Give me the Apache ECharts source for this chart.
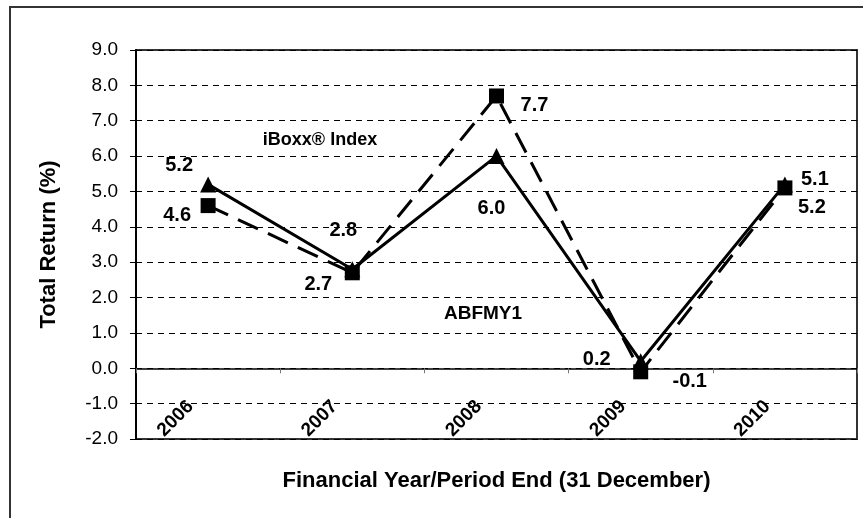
<!DOCTYPE html>
<html>
<head>
<meta charset="utf-8">
<script src="https://cdn.jsdelivr.net/npm/echarts@6/dist/echarts.min.js"></script>
<style>
  html, body { margin: 0; padding: 0; background: #fff; }
  #main { width: 863px; height: 518px; }
</style>
</head>
<body>
<div id="main"></div>
<script>
// categories and values
var years = ['2006', '2007', '2008', '2009', '2010'];
var iboxx = [5.2, 2.8, 6.0, 0.2, 5.2];    // solid line, triangles
var abfmy1 = [4.6, 2.7, 7.7, -0.1, 5.1];  // dashed line, squares

// where each value label sits relative to its marker (px)
var iboxxLabelOffsets = [[-29, -19], [-9, -39], [-5, 52], [-44, -2], [27, 23]];
var abfmyLabelOffsets = [[-31, 10], [-34, 12], [38, 10], [49, 10], [30, -8]];

var FONT = 'Arial, "Liberation Sans", sans-serif';

function withLabels(values, offsets) {
  return values.map(function (v, i) {
    return { value: v, label: { offset: offsets[i] } };
  });
}

var myChart = echarts.init(document.getElementById('main'));

myChart.setOption({
  backgroundColor: '#fff',
  animation: false,
  textStyle: { fontFamily: FONT },
  grid: {
    left: 136,
    top: 50,
    right: 6,
    bottom: 79,
    outerBoundsMode: 'none',
    containLabel: false,
    show: true,
    borderColor: '#333',
    borderWidth: 2
  },
  xAxis: {
    type: 'category',
    data: years,
    boundaryGap: true,
    axisLine: { onZero: true, lineStyle: { color: '#000', width: 1.5 } },
    axisTick: { show: true, inside: false, length: 5, lineStyle: { color: '#777', width: 1 } },
    axisLabel: {
      rotate: 45,
      margin: -53,
      padding: [0, 25, 0, 0],
      color: '#000',
      fontSize: 19,
      fontWeight: 'bold',
      fontFamily: FONT
    },
    splitLine: { show: false },
    name: 'Financial Year/Period End (31 December)',
    nameLocation: 'middle',
    nameGap: 31,
    nameTextStyle: { color: '#000', fontSize: 22, fontWeight: 'bold', fontFamily: FONT }
  },
  yAxis: {
    type: 'value',
    min: -2,
    max: 9,
    interval: 1,
    axisLine: { show: true, lineStyle: { color: '#000', width: 2 } },
    axisTick: { show: true, inside: false, length: 6, lineStyle: { color: '#000', width: 1 } },
    axisLabel: {
      margin: 18,
      color: '#000',
      fontSize: 19,
      fontFamily: FONT,
      formatter: function (v) { return v.toFixed(1); }
    },
    splitLine: { show: true, lineStyle: { color: '#000', width: 1, type: [6, 5] } },
    name: 'Total Return (%)',
    nameLocation: 'middle',
    nameGap: 76,
    nameTextStyle: { color: '#000', fontSize: 22, fontWeight: 'bold', fontFamily: FONT }
  },
  graphic: [
    {
      type: 'rect',
      silent: true,
      shape: { x: 10, y: 7, width: 900, height: 600 },
      style: { fill: 'none', stroke: '#333', lineWidth: 2 },
      z: -1
    },
    {
      type: 'text',
      x: 320, y: 140,
      style: {
        text: 'iBoxx® Index',
        fill: '#000',
        font: 'bold 18px ' + FONT,
        align: 'center',
        verticalAlign: 'middle'
      }
    },
    {
      type: 'text',
      x: 483, y: 314,
      style: {
        text: 'ABFMY1',
        fill: '#000',
        font: 'bold 19px ' + FONT,
        align: 'center',
        verticalAlign: 'middle'
      }
    }
  ],
  series: [
    {
      name: 'iBoxx® Index',
      type: 'line',
      data: withLabels(iboxx, iboxxLabelOffsets),
      symbol: 'triangle',
      symbolSize: 16,
      lineStyle: { color: '#000', width: 3 },
      itemStyle: { color: '#000' },
      label: {
        show: true,
        position: 'inside',
        align: 'center',
        verticalAlign: 'middle',
        color: '#000',
        fontSize: 20,
        fontWeight: 'bold',
        fontFamily: FONT,
        formatter: function (p) { return p.value.toFixed(1); }
      },
      z: 3
    },
    {
      name: 'ABFMY1',
      type: 'line',
      data: withLabels(abfmy1, abfmyLabelOffsets),
      symbol: 'rect',
      symbolSize: 15,
      lineStyle: { color: '#000', width: 3, type: [22, 11] },
      itemStyle: { color: '#000' },
      label: {
        show: true,
        position: 'inside',
        align: 'center',
        verticalAlign: 'middle',
        color: '#000',
        fontSize: 20,
        fontWeight: 'bold',
        fontFamily: FONT,
        formatter: function (p) { return p.value.toFixed(1); }
      },
      z: 4
    }
  ]
});

window.addEventListener('resize', function () {
  myChart.resize();
});
</script>
</body>
</html>
